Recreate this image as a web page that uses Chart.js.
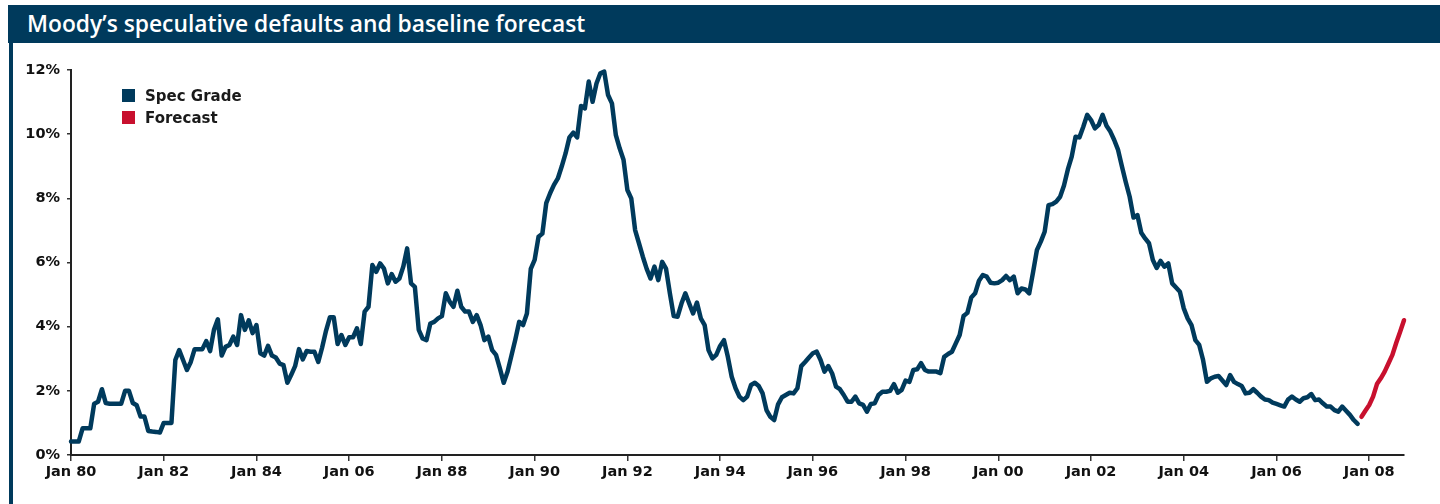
<!DOCTYPE html>
<html>
<head>
<meta charset="utf-8">
<title>Moody's speculative defaults</title>
<script src="https://cdn.jsdelivr.net/npm/chart.js@4.4.0/dist/chart.umd.min.js"></script>
<style>
  html, body {
    margin: 0;
    padding: 0;
    background: #fff;
    width: 1440px;
    height: 504px;
    overflow: hidden;
  }
  .title-bar {
    position: absolute;
    left: 8px;
    top: 5px;
    right: 0;
    height: 38px;
    background: #003a5c;
    color: #fff;
    font-family: "Open Sans", sans-serif;
    font-weight: 600;
    font-size: 22.8px;
    line-height: 38px;
    padding-left: 19px;
    white-space: nowrap;
  }
  .left-rule {
    position: absolute;
    left: 9px;
    top: 43px;
    width: 3.5px;
    bottom: 0;
    background: #003a5c;
  }
  .chart-wrap {
    position: absolute;
    left: 14px;
    top: 45px;
    width: 1426px;
    height: 459px;
  }
  .legend {
    position: absolute;
    left: 122px;
    top: 87px;
    font-family: "DejaVu Sans", sans-serif;
    font-weight: bold;
    font-size: 15px;
    color: #1a1a1a;
  }
  .legend div {
    height: 22px;
    line-height: 18px;
  }
  .legend span {
    display: inline-block;
    width: 13px;
    height: 13px;
    margin-right: 10px;
    vertical-align: -1px;
  }
</style>
</head>
<body>
<div class="title-bar">Moody’s speculative defaults and baseline forecast</div>
<div class="left-rule"></div>
<div class="chart-wrap"><canvas id="defaultsChart"></canvas></div>
<div class="legend" id="legend"></div>

<script>
// Monthly default rates (%), month 0 = Jan 1980
const spec1980s = [
  0.42, 0.42, 0.42, 0.83, 0.83, 0.83, 1.6, 1.66, 2.05, 1.62, 1.6, 1.6,
  1.6, 1.6, 2.0, 2.0, 1.62, 1.55, 1.2, 1.2, 0.75, 0.73, 0.72, 0.7,
  1.0, 1.0, 1.0, 2.96, 3.27, 2.96, 2.65, 2.9, 3.3, 3.3, 3.3, 3.55,
  3.24, 3.9, 4.23, 3.1, 3.37, 3.43, 3.69, 3.43, 4.36, 3.9, 4.2, 3.8,
  4.05, 3.17, 3.1, 3.4, 3.1, 3.04, 2.85, 2.8, 2.25, 2.5, 2.77, 3.3,
  2.98, 3.24, 3.22, 3.22, 2.9, 3.35, 3.87, 4.29, 4.29, 3.46, 3.74, 3.43,
  3.67, 3.67, 3.95, 3.46, 4.47, 4.62, 5.92, 5.71, 5.97, 5.81, 5.35, 5.64,
  5.4, 5.5, 5.87, 6.44, 5.35, 5.24, 3.9, 3.63, 3.58, 4.1, 4.15, 4.26,
  4.33, 5.04, 4.78, 4.62, 5.12, 4.62, 4.47, 4.47, 4.15, 4.36, 4.05, 3.58,
  3.69, 3.27, 3.12, 2.7, 2.25, 2.6, 3.1, 3.6, 4.15, 4.05, 4.41, 5.8,
];
const spec1990s = [
  6.08, 6.8, 6.9, 7.85, 8.16, 8.42, 8.62, 8.99, 9.4, 9.9, 10.05, 9.9,
  10.88, 10.8, 11.64, 11.01, 11.58, 11.9, 11.95, 11.22, 10.96, 9.98, 9.56, 9.2,
  8.26, 8.0, 7.01, 6.6, 6.18, 5.8, 5.5, 5.87, 5.45, 6.02, 5.81, 5.04,
  4.33, 4.31, 4.72, 5.04, 4.72, 4.41, 4.75, 4.26, 4.05, 3.27, 3.01, 3.12,
  3.4, 3.58, 3.06, 2.44, 2.08, 1.82, 1.71, 1.82, 2.18, 2.25, 2.15, 1.92,
  1.4, 1.19, 1.09, 1.58, 1.8, 1.87, 1.94, 1.92, 2.08, 2.77, 2.9, 3.04,
  3.17, 3.22, 2.96, 2.6, 2.77, 2.54, 2.13, 2.05, 1.87, 1.66, 1.66, 1.82,
  1.61, 1.56, 1.35, 1.59, 1.61, 1.87, 1.97, 1.97, 2.0, 2.21, 1.94, 2.03,
  2.32, 2.28, 2.65, 2.67, 2.86, 2.65, 2.6, 2.6, 2.6, 2.55, 3.06, 3.15,
  3.22, 3.48, 3.74, 4.33, 4.43, 4.91, 5.04, 5.43, 5.61, 5.56, 5.37, 5.35,
];
const spec2000s = [
  5.37, 5.45, 5.58, 5.45, 5.56, 5.04, 5.19, 5.16, 5.04, 5.7, 6.39, 6.65,
  6.96, 7.79, 7.82, 7.9, 8.05, 8.4, 8.9, 9.3, 9.92, 9.9, 10.23, 10.6,
  10.44, 10.18, 10.29, 10.6, 10.26, 10.08, 9.82, 9.51, 8.99, 8.5, 8.05, 7.4,
  7.48, 6.93, 6.75, 6.6, 6.08, 5.83, 6.05, 5.87, 5.97, 5.35, 5.22, 5.09,
  4.57, 4.26, 4.05, 3.58, 3.43, 2.96, 2.28, 2.39, 2.44, 2.46, 2.32, 2.18,
  2.49, 2.28, 2.21, 2.15, 1.92, 1.94, 2.05, 1.94, 1.82, 1.73, 1.71, 1.63,
  1.59, 1.55, 1.51, 1.73, 1.82, 1.73, 1.66, 1.77, 1.8, 1.9, 1.71, 1.73,
  1.61, 1.51, 1.51, 1.4, 1.35, 1.51, 1.38, 1.25, 1.09, 0.97,
];
// Baseline forecast, Nov 2007 - Oct 2008
const forecastValues = [1.19, 1.38, 1.56, 1.82, 2.21, 2.39, 2.6, 2.86, 3.12, 3.5, 3.84, 4.2];

// Tick labels every 24 months (as printed on the original)
const xTickLabels = [
  "Jan 80", "Jan 82", "Jan 84", "Jan 06", "Jan 88", "Jan 90", "Jan 92",
  "Jan 94", "Jan 96", "Jan 98", "Jan 00", "Jan 02", "Jan 04", "Jan 06", "Jan 08",
];
const yTickValues = [0, 2, 4, 6, 8, 10, 12];

const seriesNames = ["Spec Grade", "Forecast"];
const seriesColors = ["#003a5c", "#c8102e"];

const specValues = spec1980s.concat(spec1990s, spec2000s);
const specPoints = specValues.map((v, i) => ({ x: i, y: v }));
const forecastPoints = forecastValues.map((v, i) => ({ x: specValues.length + i, y: v }));
const lastMonth = specValues.length + forecastValues.length - 1;

// Legend built in HTML
const legend = document.getElementById("legend");
seriesNames.forEach((name, i) => {
  const row = document.createElement("div");
  row.innerHTML = `<span style="background:${seriesColors[i]}"></span>${name}`;
  legend.appendChild(row);
});

const tickFont = { family: "'DejaVu Sans', sans-serif", weight: "bold", size: 14.5 };

new Chart(document.getElementById("defaultsChart"), {
  type: "line",
  data: {
    datasets: [
      {
        label: seriesNames[0],
        data: specPoints,
        borderColor: seriesColors[0],
        borderWidth: 4.5,
        pointRadius: 0,
        tension: 0,
        borderJoinStyle: "round",
        borderCapStyle: "round",
        clip: false,
      },
      {
        label: seriesNames[1],
        data: forecastPoints,
        borderColor: seriesColors[1],
        borderWidth: 4.5,
        pointRadius: 0,
        tension: 0,
        borderJoinStyle: "round",
        borderCapStyle: "round",
        clip: false,
      },
    ],
  },
  options: {
    responsive: true,
    maintainAspectRatio: false,
    animation: false,
    layout: {
      padding: { top: 25, right: 36, left: 0, bottom: 0 },
    },
    plugins: {
      legend: { display: false },
      tooltip: { enabled: false },
    },
    scales: {
      x: {
        type: "linear",
        min: 0,
        max: lastMonth,
        afterBuildTicks: function (axis) {
          axis.ticks = xTickLabels.map((label, i) => ({ value: i * 24 }));
        },
        afterFit: function (scale) {
          scale.height = 49;
        },
        ticks: {
          autoSkip: false,
          maxRotation: 0,
          padding: 3,
          color: "#111",
          font: tickFont,
          callback: function (value) {
            return xTickLabels[Math.round(value / 24)];
          },
        },
        grid: {
          display: true,
          drawOnChartArea: false,
          drawTicks: true,
          tickLength: 6,
          color: "#333",
          lineWidth: 1.5,
        },
        border: { display: true, color: "#222", width: 2 },
      },
      y: {
        min: 0,
        max: 12,
        afterBuildTicks: function (axis) {
          axis.ticks = yTickValues.map((v) => ({ value: v }));
        },
        afterFit: function (scale) {
          scale.width = 57;
        },
        ticks: {
          padding: 7,
          color: "#111",
          font: tickFont,
          callback: function (value) {
            return value + "%";
          },
        },
        grid: {
          display: true,
          drawOnChartArea: false,
          drawTicks: true,
          tickLength: 4,
          color: "#333",
          lineWidth: 1.5,
        },
        border: { display: true, color: "#222", width: 2 },
      },
    },
  },
});
</script>
</body>
</html>
